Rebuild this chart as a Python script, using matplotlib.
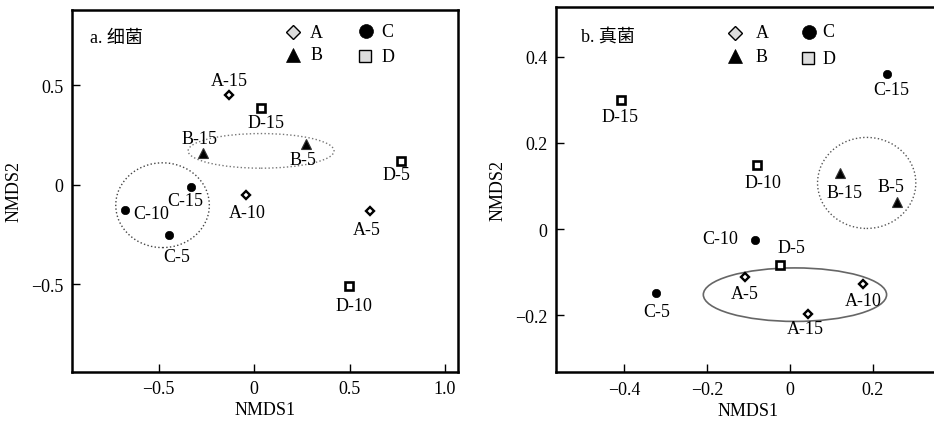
import matplotlib
matplotlib.use("Agg")
import matplotlib.pyplot as plt
from matplotlib.patches import Ellipse
from matplotlib.ticker import FuncFormatter

plt.rcParams['font.family'] = ['Liberation Serif', 'Noto Sans CJK SC']
plt.rcParams['font.size'] = 13
plt.rcParams['axes.unicode_minus'] = True

# bacteria NMDS scores
bac_names = ['A-5', 'A-10', 'A-15', 'B-5', 'B-15', 'C-5', 'C-10', 'C-15', 'D-5', 'D-10', 'D-15']
bac_x = [0.606, -0.042, -0.131, 0.272, -0.269, -0.447, -0.674, -0.332, 0.770, 0.497, 0.037]
bac_y = [-0.132, -0.049, 0.451, 0.204, 0.161, -0.251, -0.127, -0.008, 0.122, -0.509, 0.387]

# fungi NMDS scores
fun_names = ['A-5', 'A-10', 'A-15', 'B-5', 'B-15', 'C-5', 'C-10', 'C-15', 'D-5', 'D-10', 'D-15']
fun_x = [-0.108, 0.176, 0.043, 0.257, 0.120, -0.322, -0.085, 0.235, -0.024, -0.079, -0.408]
fun_y = [-0.110, -0.127, -0.196, 0.063, 0.131, -0.147, -0.026, 0.360, -0.083, 0.149, 0.299]

# label offsets in pixels (dx, dy)
bac_off = [(-3, -18), (1, -18), (0, 15), (-3, -15), (-3, 14), (8, -22), (26, -3), (-5, -14), (-5, -14), (5, -19), (5, -15)]
fun_off = [(0, -17), (0, -17), (-2, -15), (-6, 15), (5, -20), (0, -19), (-35, 2), (4, -16), (11, 17), (6, -18), (-1, -16)]

# group ellipses: centre x, centre y, width, height
bac_ell = [(0.037, 0.171, 0.764, 0.174), (-0.479, -0.102, 0.49, 0.426)]
fun_ell = [(0.012, -0.152, 0.442, 0.124), (0.185, 0.107, 0.237, 0.211)]

styles = {
    'A': dict(marker='D', ms=4.3, mfc='white', mec='black', mew=1.7),
    'B': dict(marker='^', ms=7, mfc='black', mec='#333333', mew=0.8),
    'C': dict(marker='o', ms=6, mfc='black', mec='black', mew=0.5),
    'D': dict(marker='s', ms=5.3, mfc='white', mec='black', mew=1.9),
}
leg_styles = {
    'A': dict(marker='D', ms=7, mfc='#dddddd', mec='black', mew=1.0),
    'B': dict(marker='^', ms=10, mfc='black', mec='black', mew=0.5),
    'C': dict(marker='o', ms=10, mfc='black', mec='black', mew=0.5),
    'D': dict(marker='s', ms=9, mfc='#dddddd', mec='black', mew=1.0),
}


def fmt(v, pos):
    if abs(v) < 1e-9:
        return '0'
    return ('%.1f' % v).replace('-', '\u2212')


def panel(ax, names, xs, ys, offs, ells, ell_styles, title, leg_pos, title_pos):
    for e, st in zip(ells, ell_styles):
        ax.add_patch(Ellipse((e[0], e[1]), e[2], e[3], fill=False, **st))
    for n, x, y, o in zip(names, xs, ys, offs):
        ax.plot(x, y, ls='none', **styles[n[0]], zorder=3)
        ax.annotate(n, (x, y), xytext=o, textcoords='offset pixels',
                    ha='center', va='center', fontsize=13, zorder=4)
    for g, (mx, my, tx) in leg_pos.items():
        ax.plot(mx, my, ls='none', transform=ax.transAxes, clip_on=False, **leg_styles[g])
        ax.text(tx, my, g, transform=ax.transAxes, ha='left', va='center', fontsize=13)
    ax.text(title_pos[0], title_pos[1], title, transform=ax.transAxes,
            ha='left', va='center', fontsize=13)
    ax.tick_params(direction='in', length=6, width=1, labelsize=13, pad=6)
    ax.xaxis.set_major_formatter(FuncFormatter(fmt))
    ax.yaxis.set_major_formatter(FuncFormatter(fmt))
    for s in ax.spines.values():
        s.set_linewidth(1.8)
    ax.set_xlabel('NMDS1', fontsize=13, labelpad=3)
    ax.set_ylabel('NMDS2', fontsize=13, labelpad=6)


fig = plt.figure(figsize=(9.34, 4.27), dpi=100)

ax1 = fig.add_axes([0.0771, 0.1265, 0.4133, 0.8478])
ax1.set_xlim(-0.953, 1.068)
ax1.set_ylim(-0.94, 0.879)
ax1.set_xticks([-0.5, 0, 0.5, 1.0])
ax1.set_yticks([-0.5, 0, 0.5])
panel(ax1, bac_names, bac_x, bac_y, bac_off, bac_ell,
      [dict(ec='#777777', lw=1.0, ls=':'), dict(ec='#444444', lw=1.0, ls=':')],
      'a. 细菌',
      {'A': (0.572, 0.938, 0.617), 'B': (0.572, 0.876, 0.617),
       'C': (0.761, 0.941, 0.802), 'D': (0.759, 0.872, 0.802)},
      (0.047, 0.925))

ax2 = fig.add_axes([0.595, 0.1257, 0.4115, 0.8548])
ax2.set_xlim(-0.565, 0.362)
ax2.set_ylim(-0.332, 0.514)
ax2.set_xticks([-0.4, -0.2, 0, 0.2])
ax2.set_yticks([-0.2, 0, 0.2, 0.4])
panel(ax2, fun_names, fun_x, fun_y, fun_off, fun_ell,
      [dict(ec='#666666', lw=1.2, ls='-'), dict(ec='#555555', lw=1.0, ls=':')],
      'b. 真菌',
      {'A': (0.4666, 0.931, 0.520), 'B': (0.4666, 0.866, 0.520),
       'C': (0.659, 0.933, 0.694), 'D': (0.657, 0.861, 0.694)},
      (0.065, 0.918))

fig.savefig('out.png', dpi=100)
